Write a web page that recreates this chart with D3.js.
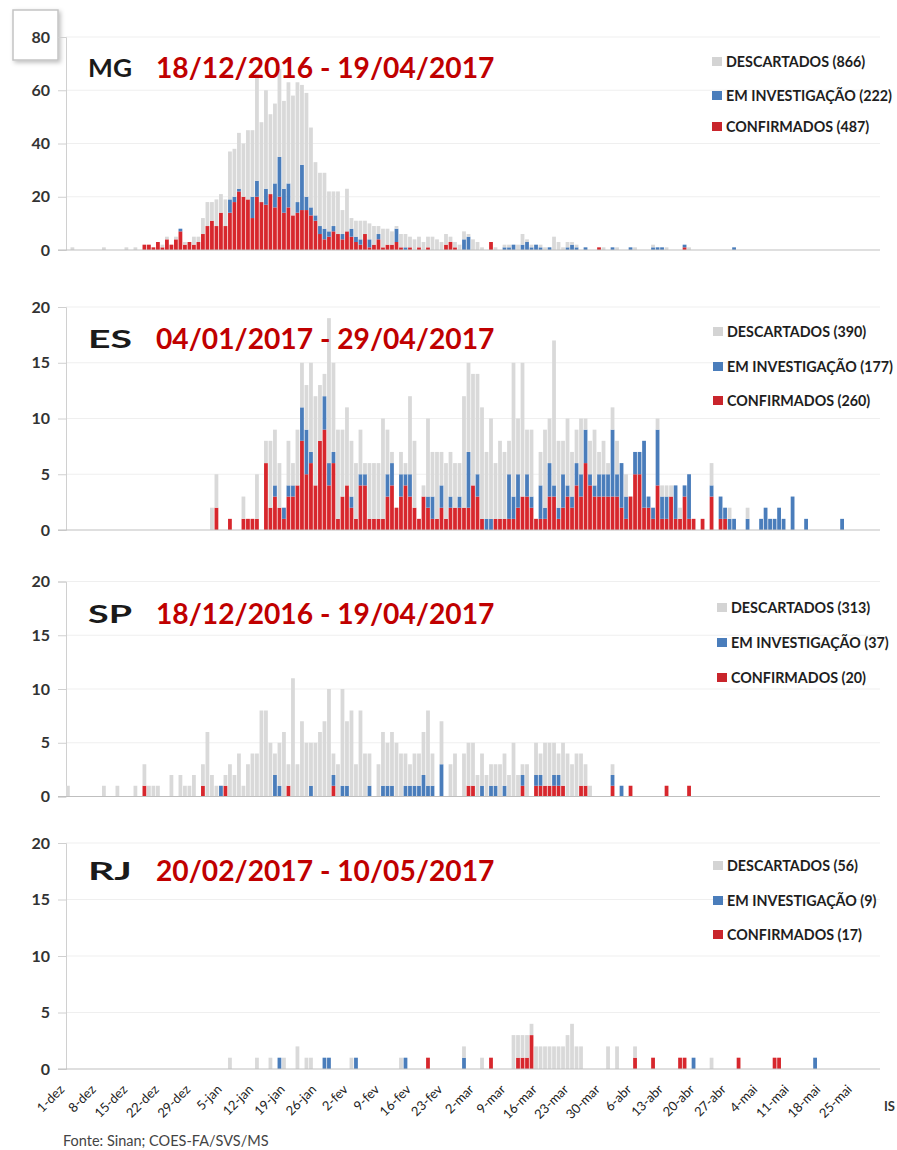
<!DOCTYPE html>
<html><head><meta charset="utf-8">
<script src="https://cdn.jsdelivr.net/npm/d3@7"></script>
<style>body{margin:0;background:#fff}svg{display:block;font-family:Lato,"Open Sans",sans-serif}</style>
</head><body>
<svg id="c" width="897" height="1150"></svg>
<script>
// ---------- categories / labels ----------
const tickLabels = ["1-dez","8-dez","15-dez","22-dez","29-dez","5-jan","12-jan","19-jan","26-jan","2-fev","9-fev","16-fev","23-fev","2-mar","9-mar","16-mar","23-mar","30-mar","6-abr","13-abr","20-abr","27-abr","4-mai","11-mai","18-mai","25-mai"];
const seriesNames = ["DESCARTADOS","EM INVESTIGAÇÃO","CONFIRMADOS"];
const states = ["MG","ES","SP","RJ"];
const periods = ["18/12/2016 - 19/04/2017","04/01/2017 - 29/04/2017","18/12/2016 - 19/04/2017","20/02/2017 - 10/05/2017"];
const legendTotals = [[866,222,487],[390,177,260],[313,37,20],[56,9,17]];

// ---------- daily values (index 0 = 1-dez-2016) ----------
const mgConf = [0,0,0,0,0,0,0,0,0,0, 0,0,0,0,0,0,0,2,2,1, 3,1,4,2,4,7,2,3,2,3,
 6,9,11,9,14,9,14,18,22,20, 19,12,20,18,17,21,16,20,14,16, 13,14,15,15,13,11,6,4,5,7,
 6,4,7,5,3,2,6,1,2,4, 1,2,2,3,1,0,1,0,1,0, 1,0,0,0,2,3,1,0,0,0, 0,0,0,0,3,0,0,0,0,0,
 0,0,0,0,0,0,0,0,0,0, 0,0,0,0,0,0,0,0,1,0, 0,0,0,0,0,0,0,0,0,0, 0,0,0,0,0,0,0,1];
const mgInv = [0,0,0,0,0,0,0,0,0,0, 0,0,0,0,0,0,0,0,0,0, 0,0,0,0,0,1,0,0,0,0,
 0,0,0,0,0,0,5,2,1,0, 0,8,6,0,6,0,9,15,9,9, 0,4,17,5,3,2,3,4,2,2,
 0,2,0,3,2,2,0,3,0,2, 0,0,0,5,0,1,0,0,0,0, 0,0,0,0,0,0,0,0,4,5, 0,0,0,0,0,0,0,1,1,2,
 0,2,3,1,2,1,0,1,0,0, 0,1,2,1,0,1,0,0,0,0, 0,1,0,0,0,1,0,0,0,0, 1,1,1,0,0,0,0,1,0,0,
 0,0,0,0,0,0,0,0,1];
const mgDesc = [0,1,0,0,0,0,0,0,1,0, 0,0,0,1,0,1,0,0,0,0, 0,1,1,0,1,0,1,0,3,2,
 6,9,7,10,7,10,18,18,21,20, 26,25,40,30,37,30,30,33,33,38, 45,45,30,39,30,20,20,21,15,13,
 16,9,16,4,6,7,5,6,7,3, 7,6,5,1,5,5,4,4,4,3, 4,5,4,3,4,2,2,2,3,1, 4,3,1,0,0,1,0,1,1,0,
 2,4,1,1,0,1,1,0,5,3, 1,2,1,1,0,0,0,0,0,1, 0,0,1,0,0,0,1,0,0,0, 1,0,0,1,0,0,0,0,1,0];

const esConf = [0,0,0,0,0,0,0,0,0,0, 0,0,0,0,0,0,0,0,0,0, 0,0,0,0,0,0,0,0,0,0,
 0,0,0,2,0,0,1,0,0,1, 1,1,1,0,6,2,3,2,1,3, 3,4,8,5,6,4,8,9,4,6,
 1,3,4,2,1,4,4,1,1,1, 1,3,4,2,3,4,3,2,1,3, 2,1,1,2,1,2,2,2,2,2, 4,3,1,0,0,1,1,1,1,1,
 2,3,3,2,1,1,1,3,3,1, 2,3,2,4,3,6,4,3,3,3, 3,3,3,2,1,3,5,5,2,2, 1,4,1,1,3,1,1,3,1,1,
 0,1,0,3,0,1,1];
const esInv = [0,0,0,0,0,0,0,0,0,0, 0,0,0,0,0,0,0,0,0,0, 0,0,0,0,0,0,0,0,0,0,
 0,0,0,0,0,0,0,0,0,0, 0,0,0,0,0,0,1,0,1,1, 1,0,3,4,1,0,0,3,2,1,
 0,0,0,1,0,1,1,0,0,0, 0,2,2,0,2,1,2,0,0,0, 1,2,0,2,0,1,0,1,0,5, 0,2,0,1,1,0,0,0,4,2,
 3,0,2,1,0,3,1,3,1,1, 3,1,1,2,2,3,1,1,2,2, 2,6,2,4,2,0,2,2,6,1, 1,5,2,2,0,3,0,1,4,0,
 0,0,0,1,0,2,1,1,1,0, 0,1,0,0,1,2,1,1,2,1, 0,3,0,0,1,0,0,0,0,0, 0,0,1];
const esDesc = [0,0,0,0,0,0,0,0,0,0, 0,0,0,0,0,0,0,0,0,0, 0,0,0,0,0,0,0,0,0,0,
 0,0,2,3,0,0,0,0,0,2, 0,0,4,0,2,6,5,4,0,4, 2,5,4,4,8,8,5,2,13,8,
 8,6,7,5,5,4,1,5,5,5, 9,4,1,0,2,1,7,6,0,1, 7,4,6,3,5,4,4,3,10,8, 10,9,10,6,9,5,7,6,3,12,
 5,12,4,6,0,3,7,4,13,6, 3,6,4,3,5,1,3,5,2,3, 1,2,3,0,2,0,0,0,0,0, 0,1,1,1,1,0,1,0,0,0,
 0,0,0,2,0,0,0,1,0,0, 0,1];

const spConf = [0,0,0,0,0,0,0,0,0,0, 0,0,0,0,0,0,0,1,0,0, 0,0,0,0,0,0,0,0,0,0,
 1,0,0,0,0,1,0,0,0,0, 0,0,0,0,0,0,0,0,0,1, 0,0,0,0,0,0,0,0,0,1,
 0,0,0,0,0,0,0,0,0,0, 0,0,0,0,0,0,0,0,0,0, 0,0,0,0,0,0,0,0,0,1, 1,0,0,0,0,0,0,0,0,0,
 0,1,0,0,1,1,1,1,1,1, 1,0,0,0,1,1,0,0,0,0, 0,1,0,0,0,1,0,0,0,0, 0,0,0,1,0,0,0,0,1];
const spInv = [0,0,0,0,0,0,0,0,0,0, 0,0,0,0,0,0,0,0,0,0, 0,0,0,0,0,0,0,0,0,0,
 0,0,0,0,1,0,0,0,0,0, 0,0,0,0,0,0,2,1,0,0, 0,0,0,0,1,0,0,0,0,1,
 0,1,1,0,0,0,0,1,0,0, 1,1,1,0,0,1,1,1,1,2, 1,1,0,3,0,0,0,0,0,0, 0,0,1,0,1,1,0,1,0,0,
 0,1,0,0,1,1,0,0,1,1, 0,0,0,0,0,0,0,0,0,0, 0,1,0,1];
const spDesc = [1,0,0,0,0,0,0,0,1,0, 0,1,0,0,0,1,0,2,1,1, 1,0,0,2,0,2,1,1,2,0,
 2,6,2,1,0,1,3,2,4,1, 3,4,4,8,8,5,2,4,6,2, 11,3,7,5,4,5,6,7,10,2,
 3,9,6,8,3,8,4,3,0,3, 5,4,5,5,4,3,2,3,3,4, 7,3,0,4,0,3,4,0,4,4, 4,2,3,2,2,2,3,3,2,5,
 2,1,3,0,3,2,4,4,3,2, 4,4,3,4,3,2,1,0,0,0, 0,1];

const rjConf = [0,0,0,0,0,0,0,0,0,0, 0,0,0,0,0,0,0,0,0,0, 0,0,0,0,0,0,0,0,0,0,
 0,0,0,0,0,0,0,0,0,0, 0,0,0,0,0,0,0,0,0,0, 0,0,0,0,0,0,0,0,0,0,
 0,0,0,0,0,0,0,0,0,0, 0,0,0,0,0,0,0,0,0,0, 1,0,0,0,0,0,0,0,0,0, 0,0,0,0,1,0,0,0,0,0,
 1,1,1,3,0,0,0,0,0,0, 0,0,0,0,0,0,0,0,0,0, 0,0,0,0,0,0,1,0,0,0, 1,0,0,0,0,0,1,1,0,0,
 0,0,0,0,0,0,0,0,0,1, 0,0,0,0,0,0,0,1,1];
const rjInv = [0,0,0,0,0,0,0,0,0,0, 0,0,0,0,0,0,0,0,0,0, 0,0,0,0,0,0,0,0,0,0,
 0,0,0,0,0,0,0,0,0,0, 0,0,0,0,0,0,0,1,0,0, 0,0,0,0,0,0,0,1,1,0,
 0,0,0,0,1,0,0,0,0,0, 0,0,0,0,0,1,0,0,0,0, 0,0,0,0,0,0,0,0,1,0, 0,0,0,0,0,0,0,0,0,0,
 0,0,0,0,0,0,0,0,0,0, 0,0,0,0,0,0,0,0,0,0, 0,0,0,0,0,0,0,0,0,0, 0,0,0,0,0,0,0,0,0,1,
 0,0,0,0,0,0,0,0,0,0, 0,0,0,0,0,0,0,0,0,0, 0,0,0,0,0,0,1];
const rjDesc = [0,0,0,0,0,0,0,0,0,0, 0,0,0,0,0,0,0,0,0,0, 0,0,0,0,0,0,0,0,0,0,
 0,0,0,0,0,0,1,0,0,0, 0,0,1,0,0,1,0,0,1,0, 0,2,0,1,1,0,0,0,0,0,
 0,0,0,1,0,0,0,0,0,0, 0,0,0,0,1,0,0,0,0,0, 0,0,0,0,0,0,0,0,1,0, 0,0,1,0,0,0,0,0,0,3,
 2,2,2,1,2,2,2,2,2,2, 2,3,4,2,2,0,0,0,0,0, 2,0,2,0,0,0,1,0,0,0, 0,0,0,0,0,0,0,0,0,0,
 0,0,0,1];

// ---------- layout ----------
const colors = {desc:"#d9d9d9", inv:"#4a7dbb", conf:"#d7272d"};
const legendColors = ["#d4d4d4","#4a7dbb","#c9252c"];
const panelCfg = [
  {max:80, step:20, y0:250, y1:37,  titleY:77,  legY:[62,96,127], legX:712},
  {max:20, step:5,  y0:530, y1:307, titleY:348, legY:[332,367,401], legX:713},
  {max:20, step:5,  y0:796.5, y1:581.5, titleY:623, legY:[608,643,678], legX:717},
  {max:20, step:5,  y0:1069, y1:843, titleY:880, legY:[866,901,935], legX:713}
];
const data = [
  {conf:mgConf, inv:mgInv, desc:mgDesc},
  {conf:esConf, inv:esInv, desc:esDesc},
  {conf:spConf, inv:spInv, desc:spDesc},
  {conf:rjConf, inv:rjInv, desc:rjDesc}
];

const days = d3.timeDay.range(new Date(2016,11,1), new Date(2017,4,31));
const x = d3.scaleBand().domain(d3.range(days.length)).range([66, 880]).paddingInner(0.16).paddingOuter(0);
const svg = d3.select("#c");

// shadow for the "80" box
const defs = svg.append("defs");
const f = defs.append("filter").attr("id","sh").attr("x","-20%").attr("y","-20%").attr("width","150%").attr("height","150%");
f.append("feDropShadow").attr("dx",2).attr("dy",2).attr("stdDeviation",2).attr("flood-color","#000").attr("flood-opacity",0.25);

panelCfg.forEach((cfg, p) => {
  const y = d3.scaleLinear().domain([0, cfg.max]).range([cfg.y0, cfg.y1]);
  const g = svg.append("g");
  const ticks = d3.range(0, cfg.max + 0.001, cfg.step);

  // gridlines
  g.selectAll(".grid").data(ticks.slice(1)).join("line")
    .attr("x1", 66).attr("x2", 880).attr("y1", d => y(d)).attr("y2", d => y(d))
    .attr("stroke", "#efefef").attr("stroke-width", 1);

  // y axis
  const yAxis = d3.axisLeft(y).tickValues(ticks).tickSize(8).tickPadding(8).tickFormat(d3.format("d"));
  const ya = g.append("g").attr("transform", "translate(66,0)").call(yAxis);
  ya.select(".domain").attr("stroke", "#d0d0d0");
  ya.selectAll(".tick line").attr("stroke", "#d0d0d0");
  ya.selectAll(".tick text").attr("x", -16).attr("font-family", "Lato, sans-serif")
    .attr("font-size", 16).attr("font-weight", "bold").attr("fill", "#333");

  // bars
  const d = data[p];
  const rows = days.map((_, i) => ({i, conf: d.conf[i] || 0, inv: d.inv[i] || 0, desc: d.desc[i] || 0}));
  const stack = d3.stack().keys(["conf","inv","desc"])(rows);
  g.selectAll(".ser").data(stack).join("g").attr("fill", s => colors[s.key])
    .selectAll("rect").data(s => s.filter(v => v[1] > v[0])).join("rect")
    .attr("x", v => x(v.data.i)).attr("width", x.bandwidth())
    .attr("y", v => y(v[1])).attr("height", v => y(v[0]) - y(v[1]));

  // baseline
  g.append("line").attr("x1", 58).attr("x2", 880).attr("y1", cfg.y0).attr("y2", cfg.y0)
    .attr("stroke", "#bfbfbf").attr("stroke-width", 1.2);

  // titles
  g.append("text").attr("x", 88).attr("y", cfg.titleY).text(states[p])
    .attr("font-family", "Lato, sans-serif").attr("font-weight", "bold").attr("font-size", 25)
    .attr("fill", "#1a1a1a").attr("textLength", 44).attr("lengthAdjust", "spacingAndGlyphs");
  g.append("text").attr("x", 156).attr("y", cfg.titleY + 1).text(periods[p])
    .attr("font-family", "Lato, sans-serif").attr("font-weight", "bold").attr("font-size", 28.2)
    .attr("fill", "#c00000");

  // legend
  const leg = g.append("g");
  seriesNames.forEach((n, k) => {
    leg.append("rect").attr("x", cfg.legX).attr("y", cfg.legY[k] - 5).attr("width", 10).attr("height", 9)
      .attr("fill", legendColors[k]);
    leg.append("text").attr("x", cfg.legX + 14).attr("y", cfg.legY[k]).attr("dy", "0.35em")
      .text(`${n} (${legendTotals[p][k]})`)
      .attr("font-family", "Lato, sans-serif").attr("font-weight", "bold").attr("font-size", 14.3)
      .attr("fill", "#1e1e1e");
  });

  if (p === 0) {
    // selection box around the "80" label
    g.insert("rect", ":first-child").attr("x", 13).attr("y", 10).attr("width", 45).attr("height", 50)
      .attr("fill", "#fff").attr("stroke", "#c4c4c4").attr("stroke-width", 1.5).attr("filter", "url(#sh)");
  }

  if (p === 3) {
    const tickIdx = d3.range(0, days.length, 7).slice(0, tickLabels.length);
    const xAxis = d3.axisBottom(x).tickValues(tickIdx).tickSize(0).tickFormat((v, k) => tickLabels[k]);
    const xa = g.append("g").attr("transform", `translate(0,${cfg.y0})`).call(xAxis);
    xa.select(".domain").remove();
    xa.selectAll(".tick text").attr("y", 0).attr("dy", "0.35em")
      .attr("transform", "translate(-6,18) rotate(-45)").attr("text-anchor", "end")
      .attr("font-family", "Lato, sans-serif").attr("font-size", 13).attr("fill", "#222");
  }
});

svg.append("text").attr("x", 884).attr("y", 1111).text("IS")
  .attr("font-family", "Lato, sans-serif").attr("font-weight", "bold").attr("font-size", 13).attr("fill", "#333");
svg.append("text").attr("x", 63).attr("y", 1146).text("Fonte: Sinan; COES-FA/SVS/MS")
  .attr("font-family", "Lato, sans-serif").attr("font-size", 14.5).attr("fill", "#444");
</script>
</body></html>
